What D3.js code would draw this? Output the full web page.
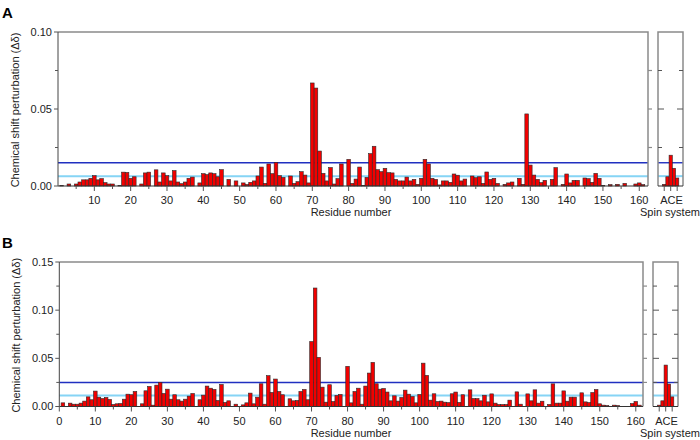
<!DOCTYPE html>
<html><head><meta charset="utf-8">
<script src="https://cdn.jsdelivr.net/npm/d3@7"></script>
<style>body{margin:0;background:#fff}text{font-family:"Liberation Sans",Arial,sans-serif;fill:#222}</style>
</head><body><svg id="c" width="700" height="440"></svg>
<script>
const residues = d3.range(1, 163);
const shiftA = [
0.0004,0,0.0013,0,0.0013,0.0026,0.004,0.004,0.005,0.0067,
0.004,0.0048,0.0022,0.0013,0.0013,0,0.0003,0.009,0.0088,0.005,
0.006,0,0.0013,0.0085,0.009,0,0.0105,0.0026,0.0085,0.0067,
0.0033,0.010,0.0026,0.0015,0.0026,0.005,0.0058,0,0.002,0.008,
0.0074,0.0085,0.008,0.006,0.0106,0,0.0043,0,0.0033,0,
0.002,0.001,0.0024,0.0033,0.0065,0.0123,0.0017,0.0143,0.008,0.0152,
0.0067,0.0056,0,0.0065,0.0017,0.0028,0.0093,0.0071,0.002,0.0669,
0.0636,0.0227,0.0082,0.0033,0.012,0.0013,0.0048,0.0143,0,0.0173,
0.0017,0.0045,0.0123,0.0004,0.0056,0.021,0.0258,0.0106,0.0093,0.0115,
0.0087,0.0085,0.0043,0.0033,0.0033,0.0058,0.0033,0.0043,0.0011,0.005,
0.0173,0.0143,0.005,0.0043,0.0007,0.0033,0.0033,0.0024,0.0078,0.007,
0.0033,0.0045,0,0.0065,0.0054,0.006,0.0017,0.0091,0.0043,0.005,
0.0017,0,0.0011,0.002,0.0026,0,0.005,0.0011,0.0468,0.0136,
0.0071,0.0043,0.0022,0.0037,0,0.0043,0.0119,0,0.0011,0.0078,
0.002,0.0037,0.0037,0,0.0052,0.0048,0.0024,0.0082,0.005,0.0004,
0,0.0009,0,0.0011,0,0.0017,0,0,0.0013,0.002,
0.0009,0];
const shiftB = [
0.0038,0,0.0035,0.0024,0.0024,0.0035,0.0056,0.010,0.007,0.016,
0.0097,0.0083,0.0094,0.0073,0.0021,0.0028,0.0031,0.0076,0.0128,0.0122,
0.0156,0,0.0028,0.0163,0.0208,0.0014,0.0222,0.025,0.0135,0.018,
0.0076,0.0122,0.007,0.0056,0.0076,0.0108,0.0135,0,0.007,0.0118,
0.0212,0.019,0.0177,0.0063,0.0229,0.0042,0.0059,0,0.0024,0,
0.0017,0.0038,0.0139,0.0028,0.0097,0.0236,0.0024,0.032,0.0146,0.0285,
0.0156,0.0122,0,0.008,0.0059,0.0063,0.0156,0.0177,0.007,0.0674,
0.123,0.051,0.0201,0.0045,0.0226,0.0052,0.0115,0.0125,0,0.0417,
0.0038,0.0156,0.019,0.0024,0.0212,0.0347,0.0458,0.0236,0.018,0.0187,
0.015,0.0059,0.0111,0.0056,0.0094,0.017,0.0128,0.0104,0.0038,0.0125,
0.045,0.0323,0.0066,0.0132,0.0052,0.0056,0.0045,0.0041,0.0132,0.015,
0.0042,0.0122,0,0.0173,0.0083,0.0083,0.0059,0.0117,0.0048,0.0131,
0.0035,0.0021,0.0021,0.0021,0.0066,0,0.0152,0.0024,0,0.0131,
0.0059,0.0173,0.0035,0.0055,0,0.0021,0.0235,0.0035,0.0035,0.0162,
0.0055,0.0097,0.0097,0,0.0142,0.0048,0.0041,0.0145,0.0176,0.0028,
0.0014,0.001,0,0.0014,0.001,0,0,0,0.0031,0.0052,
0.0014,0];
const spinCats = ["A","B","C","D","E"];
const spinLabels = ["A","C","E"];
const spinA = [0.0011,0.006,0.020,0.0115,0.0052];
const spinB = [0.0014,0.0059,0.043,0.0233,0.010];
const thresholdsA = [0.0151, 0.0064];
const thresholdsB = [0.0249, 0.0114];
const yTickLabelsA = [0, 0.05, 0.10];
const yTickLabelsB = [0, 0.05, 0.10, 0.15];
const xTickLabelsA = d3.range(10, 161, 10);
const xTickLabelsB = d3.range(0, 161, 10);

const svg = d3.select("#c");
const RED = "#f20000", DARK = "#2030c0", LIGHT = "#86d4f5", FRAME = "#8a8a8a";

function panel(o){
  const g = svg.append("g");
  const x = d3.scaleLinear().domain(o.xDomain).range([o.left, o.right]);
  const y = d3.scaleLinear().domain([0, o.yMax]).range([o.bottom, o.top]);
  const bw = x(1) - x(0);
  const thr = [[o.thr[1], LIGHT, 2], [o.thr[0], DARK, 1.4]];
  thr.forEach(([v,c,w]) => g.append("line").attr("x1", o.left).attr("x2", o.right)
    .attr("y1", y(v)).attr("y2", y(v)).attr("stroke", c).attr("stroke-width", w));
  g.selectAll("rect.b").data(residues.map((r,i)=>({r, v:o.vals[i]})).filter(d=>d.v>0))
    .join("rect").attr("x", d => x(d.r - 0.5)).attr("width", bw)
    .attr("y", d => y(d.v)).attr("height", d => y(0) - y(d.v))
    .attr("fill", RED).attr("stroke", "#2a2a2a").attr("stroke-width", 0.6);
  g.append("path").attr("d", `M${o.left},${o.top}H${o.right}V${o.bottom}`)
    .attr("fill","none").attr("stroke", FRAME).attr("stroke-width", 1.5);
  const minor = d3.range(0, o.yMax + 1e-9, 0.025);
  g.append("line").attr("x1", o.left).attr("x2", o.left).attr("y1", o.top).attr("y2", o.bottom)
    .attr("stroke", "#444").attr("stroke-width", 1);
  minor.forEach(v => {
    const major = Math.abs((v/0.05) - Math.round(v/0.05)) < 1e-6;
    g.append("line").attr("x1", o.left - (major?4:3)).attr("x2", o.left).attr("y1", y(v)).attr("y2", y(v))
      .attr("stroke", "#555");
    if (v > 0 && v < o.yMax - 1e-9)
      g.append("line").attr("x1", o.right).attr("x2", o.right + 4).attr("y1", y(v)).attr("y2", y(v))
        .attr("stroke", FRAME).attr("stroke-width", 1.2);
  });
  o.yLabels.forEach(v => g.append("text").attr("x", o.left - 6).attr("y", y(v)).attr("dy", "0.35em")
    .attr("text-anchor", "end").attr("font-size", 11).text(v.toFixed(2)));
  g.append("line").attr("x1", o.left).attr("x2", o.right).attr("y1", o.bottom).attr("y2", o.bottom)
    .attr("stroke", "#333").attr("stroke-width", 1);
  d3.range(o.xTickStart, 161, 5).forEach(t => {
    const major = t % 10 === 0;
    g.append("line").attr("x1", x(t)).attr("x2", x(t)).attr("y1", o.bottom).attr("y2", o.bottom + (major?5:3))
      .attr("stroke", "#555");
  });
  o.xLabels.forEach(t => g.append("text").attr("x", x(t)).attr("y", o.bottom + 18)
    .attr("text-anchor", "middle").attr("font-size", 11).text(t));
  g.append("text").attr("x", 351).attr("y", o.bottom + 30).attr("text-anchor", "middle")
    .attr("font-size", 11).text("Residue number");
  g.append("text").attr("transform", `translate(${o.left - 39},${(o.top+o.bottom)/2 + 1}) rotate(-90)`)
    .attr("text-anchor", "middle").attr("font-size", 11).text("Chemical shift perturbation (\u0394\u03b4)");
  g.append("text").attr("x", 2).attr("y", o.top - 14).attr("font-size", 15).attr("font-weight", "bold")
    .style("fill", "#000").text(o.tag);

  const sx = d3.scaleBand().domain(spinCats).range([o.sLeft + 4.6, o.sRight - 4.2]).padding(0);
  thr.forEach(([v,c,w]) => g.append("line").attr("x1", o.sLeft).attr("x2", o.sRight)
    .attr("y1", y(v)).attr("y2", y(v)).attr("stroke", c).attr("stroke-width", w));
  g.selectAll("rect.s").data(spinCats.map((c,i)=>({c, v:o.spin[i]})))
    .join("rect").attr("x", d => sx(d.c)).attr("width", sx.bandwidth())
    .attr("y", d => y(d.v)).attr("height", d => y(0) - y(d.v))
    .attr("fill", RED).attr("stroke", "#2a2a2a").attr("stroke-width", 0.6);
  g.append("path").attr("d", `M${o.sLeft},${o.bottom}V${o.top}H${o.sRight}V${o.bottom}`)
    .attr("fill","none").attr("stroke", FRAME).attr("stroke-width", 1.5);
  minor.forEach(v => {
    if (v <= 0 || v >= o.yMax - 1e-9) return;
    const major = Math.abs((v/0.05) - Math.round(v/0.05)) < 1e-6;
    const L = major ? 6 : 4;
    g.append("line").attr("x1", o.sLeft).attr("x2", o.sLeft + L).attr("y1", y(v)).attr("y2", y(v)).attr("stroke", "#555");
    g.append("line").attr("x1", o.sRight - L).attr("x2", o.sRight).attr("y1", y(v)).attr("y2", y(v)).attr("stroke", "#555");
  });
  g.append("line").attr("x1", o.sLeft).attr("x2", o.sRight).attr("y1", o.bottom).attr("y2", o.bottom)
    .attr("stroke", "#333");
  spinLabels.forEach(c => {
    const cx = sx(c) + sx.bandwidth()/2;
    g.append("line").attr("x1", cx).attr("x2", cx).attr("y1", o.bottom).attr("y2", o.bottom + 5).attr("stroke", "#555");
  });
  g.append("text").attr("x", (o.sLeft + o.sRight)/2 + 1).attr("y", o.bottom + 18).attr("text-anchor", "middle")
    .attr("font-size", 11).text(spinLabels.join(""));
  g.append("text").attr("x", 670).attr("y", o.bottom + 30).attr("text-anchor", "middle")
    .attr("font-size", 11).text("Spin system");
}

panel({tag:"A", vals:shiftA, spin:spinA, thr:thresholdsA, left:58, right:648, top:32, bottom:186,
  xDomain:[0,162.4], yMax:0.10, yLabels:yTickLabelsA, xLabels:xTickLabelsA, xTickStart:5,
  sLeft:658, sRight:683});
panel({tag:"B", vals:shiftB, spin:spinB, thr:thresholdsB, left:59.3, right:643, top:262, bottom:406.5,
  xDomain:[0,162], yMax:0.15, yLabels:yTickLabelsB, xLabels:xTickLabelsB, xTickStart:0,
  sLeft:653, sRight:678});
</script></body></html>
